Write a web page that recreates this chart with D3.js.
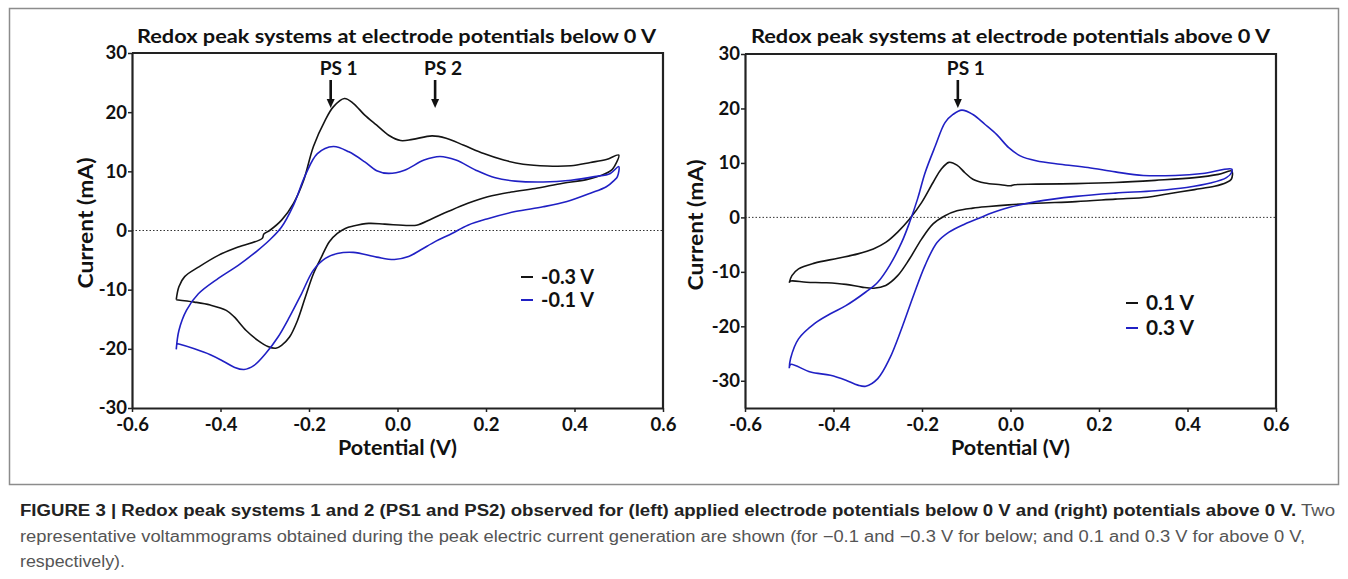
<!DOCTYPE html>
<html>
<head>
<meta charset="utf-8">
<script src="https://cdn.jsdelivr.net/npm/d3@7"></script>
<style>
  body { margin: 0; background: #fff; }
  svg { display: block; }
  .axis path, .axis line { stroke: #222; }
</style>
</head>
<body>
<div id="fig"></div>
<script>
// ticks
const xTicks = [-0.6, -0.4, -0.2, 0, 0.2, 0.4, 0.6];
const yTicks = [-30, -20, -10, 0, 10, 20, 30];

// left panel: potentials below 0 V  [potential (V), current (mA)]
const leftSeries = ["-0.3 V", "-0.1 V"];
const leftM03 = [[-0.5,-11.7],[-0.494,-9.5],[-0.481,-7.8],[-0.45,-6.2],[-0.405,-4.2],[-0.36,-2.8],[-0.306,-1.35],[-0.302,-0.6],[-0.289,0],[-0.262,1.75],[-0.235,4.6],[-0.212,8.5],[-0.19,14.2],[-0.163,18.7],[-0.145,20.9],[-0.12,22.3],[-0.1,21.5],[-0.074,19.5],[-0.047,17.8],[-0.02,16.1],[0.007,15.2],[0.034,15.4],[0.078,16.0],[0.11,15.6],[0.15,14.4],[0.195,13.0],[0.24,11.9],[0.284,11.2],[0.338,10.9],[0.392,10.95],[0.436,11.5],[0.472,12.0],[0.5,12.75],[0.49,10.8],[0.485,10.3],[0.463,9.4],[0.427,8.6],[0.374,8.0],[0.311,7.1],[0.257,6.5],[0.204,5.7],[0.159,4.6],[0.114,3.2],[0.078,2.0],[0.043,0.9],[0.025,0.85],[-0.029,1.07],[-0.065,1.2],[-0.1,0.75],[-0.118,0.35],[-0.136,-0.5],[-0.154,-1.9],[-0.172,-4.5],[-0.19,-7.3],[-0.208,-11.2],[-0.226,-15.2],[-0.244,-18.0],[-0.262,-19.4],[-0.275,-19.9],[-0.293,-19.6],[-0.315,-18.6],[-0.342,-16.9],[-0.369,-14.6],[-0.387,-13.5],[-0.423,-12.6],[-0.459,-12.1],[-0.5,-11.7]];
const leftM01 = [[-0.5,-20.1],[-0.494,-16.9],[-0.477,-13.5],[-0.45,-10.7],[-0.405,-8.1],[-0.36,-5.9],[-0.315,-3.3],[-0.289,-1.6],[-0.262,0.6],[-0.235,4.3],[-0.208,9.4],[-0.181,13.0],[-0.145,14.2],[-0.11,13.3],[-0.074,11.6],[-0.047,10.1],[-0.02,9.65],[0.016,10.2],[0.06,11.9],[0.096,12.5],[0.132,11.9],[0.177,10.2],[0.221,8.9],[0.266,8.35],[0.329,8.2],[0.392,8.5],[0.445,9.1],[0.481,9.65],[0.5,10.8],[0.497,9.1],[0.49,8.5],[0.472,7.4],[0.436,6.3],[0.383,4.9],[0.329,4.0],[0.266,3.2],[0.204,2.0],[0.159,0.9],[0.123,-0.5],[0.087,-1.8],[0.052,-3.3],[0.025,-4.4],[-0.007,-4.9],[-0.047,-4.5],[-0.1,-3.7],[-0.136,-3.9],[-0.163,-4.7],[-0.19,-6.7],[-0.217,-10.7],[-0.244,-14.6],[-0.27,-18.0],[-0.298,-20.8],[-0.324,-22.8],[-0.347,-23.5],[-0.369,-23.1],[-0.396,-22.0],[-0.423,-21.0],[-0.459,-20.0],[-0.494,-19.2],[-0.5,-19.1]];
const leftPeaks = [["PS 1", -0.151], ["PS 2", 0.085]];

// right panel: potentials above 0 V
const rightSeries = ["0.1 V", "0.3 V"];
const rightP01 = [[-0.5,-12.0],[-0.494,-10.7],[-0.479,-9.45],[-0.443,-8.4],[-0.39,-7.5],[-0.345,-6.7],[-0.31,-5.8],[-0.282,-4.6],[-0.255,-2.7],[-0.228,-0.3],[-0.201,2.7],[-0.175,6.4],[-0.157,8.8],[-0.139,10.1],[-0.121,9.6],[-0.103,8.2],[-0.085,7.0],[-0.058,6.3],[-0.022,6.0],[0.0,5.8],[0.009,6.0],[0.058,6.1],[0.148,6.2],[0.237,6.4],[0.327,6.8],[0.416,7.3],[0.47,7.9],[0.5,8.5],[0.499,7.0],[0.488,6.4],[0.461,5.7],[0.416,5.1],[0.354,4.3],[0.309,3.7],[0.237,3.35],[0.148,2.9],[0.058,2.6],[-0.004,2.3],[-0.049,2.0],[-0.085,1.7],[-0.121,1.2],[-0.148,0.3],[-0.175,-1.2],[-0.201,-4.0],[-0.228,-7.6],[-0.255,-10.7],[-0.282,-12.5],[-0.309,-13.0],[-0.336,-12.8],[-0.372,-12.3],[-0.416,-12.0],[-0.461,-11.9],[-0.497,-11.7],[-0.5,-12.0]];
const rightP03 = [[-0.5,-27.7],[-0.497,-25.9],[-0.479,-22.3],[-0.443,-19.5],[-0.407,-17.7],[-0.372,-16.2],[-0.327,-13.7],[-0.3,-11.9],[-0.273,-8.8],[-0.246,-4.6],[-0.228,-0.9],[-0.21,3.4],[-0.193,8.2],[-0.17,13.1],[-0.148,17.4],[-0.13,18.9],[-0.11,19.7],[-0.085,18.9],[-0.058,17.1],[-0.031,15.2],[-0.004,12.8],[0.022,11.3],[0.058,10.4],[0.112,9.75],[0.175,9.15],[0.237,8.35],[0.3,7.7],[0.372,7.7],[0.434,8.05],[0.5,8.85],[0.5,8.3],[0.488,7.3],[0.452,6.3],[0.398,5.5],[0.327,4.9],[0.237,4.45],[0.148,3.85],[0.058,2.9],[-0.004,1.8],[-0.049,0.6],[-0.067,0],[-0.103,-1.2],[-0.139,-2.7],[-0.166,-4.6],[-0.193,-8.8],[-0.219,-14.3],[-0.246,-20.4],[-0.273,-25.9],[-0.3,-29.6],[-0.327,-31.0],[-0.345,-30.8],[-0.372,-29.9],[-0.407,-29.0],[-0.452,-28.4],[-0.497,-27.0],[-0.5,-27.7]];
const rightPeaks = [["PS 1", -0.119]];

const colors = ["#141414", "#2020c4"];
const font = "Lato, 'Open Sans', sans-serif";

const svg = d3.select("#fig").append("svg")
    .attr("width", 1348)
    .attr("height", 579);

svg.append("rect").attr("width", 1348).attr("height", 579).attr("fill", "#fff");

// figure border
svg.append("rect")
    .attr("x", 9.5).attr("y", 8.5)
    .attr("width", 1329).attr("height", 476)
    .attr("fill", "none")
    .attr("stroke", "#8c8c8c")
    .attr("stroke-width", 1.5);

function boldText(g, x, y, str, size, len) {
    return g.append("text")
        .attr("x", x).attr("y", y)
        .attr("textLength", len).attr("lengthAdjust", "spacingAndGlyphs")
        .style("font-family", font).style("font-weight", 700).style("font-size", size + "px")
        .attr("fill", "#111")
        .text(str);
}

function styleTicks(a) {
    a.select(".domain").attr("stroke-width", 2.2);
    a.selectAll(".tick line").attr("stroke-width", 1.5);
    a.selectAll(".tick text")
        .style("font-family", font).style("font-weight", 700).style("font-size", "18.5px")
        .attr("fill", "#111");
}

function drawPanel(p) {
    const x = d3.scaleLinear().domain([-0.6, 0.6]).range([p.left, p.right]);
    const y = d3.scaleLinear().domain(p.yDomain).range([p.bottom, p.top]);
    const g = svg.append("g");

    // title
    boldText(g, (p.titleX0 + p.titleX1) / 2, 43, p.title, 18.5, p.titleX1 - p.titleX0)
        .attr("text-anchor", "middle");

    // zero line
    g.append("line")
        .attr("x1", p.left).attr("x2", p.right)
        .attr("y1", y(0)).attr("y2", y(0))
        .attr("stroke", "#333").attr("stroke-width", 1)
        .attr("stroke-dasharray", "1.5 2");

    // curves
    const line = d3.line()
        .x(d => x(d[0])).y(d => y(d[1]))
        .curve(d3.curveCatmullRom.alpha(0.5));
    p.series.forEach((s, i) => {
        g.append("path")
            .datum(s)
            .attr("d", line)
            .attr("fill", "none")
            .attr("stroke", colors[i])
            .attr("stroke-width", 1.6)
            .attr("stroke-linejoin", "round");
    });

    // axes
    g.append("g")
        .attr("class", "axis")
        .attr("transform", "translate(0," + p.bottom + ")")
        .call(d3.axisBottom(x).tickValues(xTicks).tickSize(4).tickSizeOuter(0).tickFormat(d => d.toFixed(1)))
        .call(styleTicks)
        .call(a => a.selectAll(".tick text").attr("dy", "0.85em"));
    g.append("g")
        .attr("class", "axis")
        .attr("transform", "translate(" + p.left + ",0)")
        .call(d3.axisLeft(y).tickValues(yTicks).tickSize(4).tickSizeOuter(0).tickFormat(d => d))
        .call(styleTicks)
        .call(a => a.selectAll(".tick text").attr("x", -5));

    // top and right frame
    g.append("path")
        .attr("d", "M" + p.left + "," + p.top + "H" + p.right + "V" + p.bottom)
        .attr("fill", "none").attr("stroke", "#222").attr("stroke-width", 2.2);

    // axis titles
    boldText(g, (p.left + p.right) / 2, 455, "Potential (V)", 21, 119)
        .attr("text-anchor", "middle");
    boldText(g, 0, 0, "Current (mA)", 21, 131)
        .attr("transform", "translate(" + (p.yTitleX + 7) + "," + p.yTitleY + ") rotate(-90)")
        .attr("text-anchor", "middle");

    // peak annotations
    p.peaks.forEach(pk => {
        const px = x(pk[1]);
        boldText(g, px + 8, 75, pk[0], 19, 38)
            .attr("text-anchor", "middle");
        g.append("line")
            .attr("x1", px).attr("x2", px)
            .attr("y1", 80).attr("y2", 100)
            .attr("stroke", "#111").attr("stroke-width", 2.6);
        g.append("path")
            .attr("d", "M" + (px - 4) + ",99L" + (px + 4) + ",99L" + px + ",108Z")
            .attr("fill", "#111");
    });

    // legend
    p.legendNames.forEach((name, i) => {
        const ly = p.legendY + i * p.legendGap;
        g.append("line")
            .attr("x1", p.legendX).attr("x2", p.legendX + 12)
            .attr("y1", ly).attr("y2", ly)
            .attr("stroke", colors[i]).attr("stroke-width", 2);
        boldText(g, p.legendX + 20, ly + 7, name, 20, p.legendW);
    });
}

drawPanel({
    left: 132, right: 663, top: 53, bottom: 408,
    yDomain: [-30, 30],
    title: "Redox peak systems at electrode potentials below 0 V",
    titleX0: 137, titleX1: 656,
    series: [leftM03, leftM01],
    peaks: leftPeaks,
    legendNames: leftSeries, legendX: 521, legendY: 277, legendGap: 23, legendW: 53,
    yTitleX: 86, yTitleY: 223
});

drawPanel({
    left: 745, right: 1276, top: 54, bottom: 408,
    yDomain: [-35, 30],
    title: "Redox peak systems at electrode potentials above 0 V",
    titleX0: 751, titleX1: 1270,
    series: [rightP01, rightP03],
    peaks: rightPeaks,
    legendNames: rightSeries, legendX: 1126, legendY: 303, legendGap: 25, legendW: 48,
    yTitleX: 696, yTitleY: 225
});

// caption
const capFont = "'Liberation Sans Narrow', 'Liberation Sans', Arial, sans-serif";
const cap1 = svg.append("text")
    .attr("x", 20).attr("y", 516)
    .attr("textLength", 1315).attr("lengthAdjust", "spacingAndGlyphs")
    .style("font-family", capFont).style("font-size", "16px");
cap1.append("tspan").attr("font-weight", 700).attr("fill", "#222")
    .text("FIGURE 3 | Redox peak systems 1 and 2 (PS1 and PS2) observed for (left) applied electrode potentials below 0 V and (right) potentials above 0 V.");
cap1.append("tspan").attr("fill", "#555").text(" Two");

svg.append("text")
    .attr("x", 20).attr("y", 542)
    .attr("textLength", 1285).attr("lengthAdjust", "spacingAndGlyphs")
    .style("font-family", capFont).style("font-size", "16px")
    .attr("fill", "#555")
    .text("representative voltammograms obtained during the peak electric current generation are shown (for \u22120.1 and \u22120.3 V for below; and 0.1 and 0.3 V for above 0 V,");

svg.append("text")
    .attr("x", 20).attr("y", 567)
    .attr("textLength", 105).attr("lengthAdjust", "spacingAndGlyphs")
    .style("font-family", capFont).style("font-size", "16px")
    .attr("fill", "#555")
    .text("respectively).");
</script>
</body>
</html>
